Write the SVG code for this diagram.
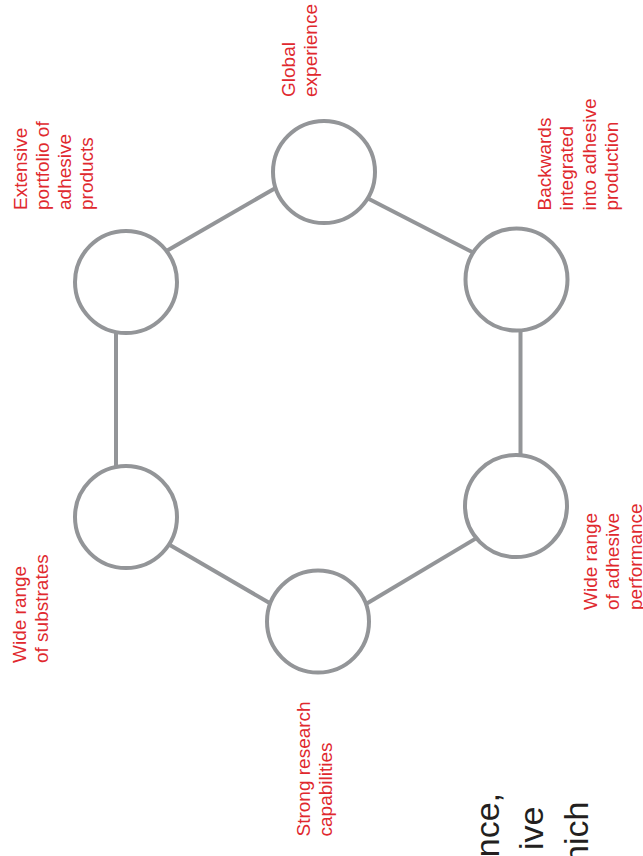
<svg xmlns="http://www.w3.org/2000/svg" width="643" height="856" viewBox="0 0 643 856">
<style>
.node{fill:#fff;stroke:#939598;stroke-width:4}
.edge{stroke:#939598;stroke-width:4;fill:none}
.lbl{font-family:"Liberation Sans",Arial,sans-serif;font-size:19px;fill:#e0282e}
.body{font-family:"Liberation Sans",Arial,sans-serif;font-size:34px;fill:#231f20}
</style>
<rect width="643" height="856" fill="#fff"/>
<g id="connectors">
<line class="edge" x1="166" y1="251.3" x2="276" y2="187.7"/>
<line class="edge" x1="368" y1="198.5" x2="474" y2="253"/>
<line class="edge" x1="520.5" y1="328" x2="520.5" y2="457"/>
<line class="edge" x1="476" y1="538.4" x2="366" y2="604"/>
<line class="edge" x1="270" y1="603.3" x2="169" y2="544.5"/>
<line class="edge" x1="116" y1="331" x2="116" y2="468"/>
</g>
<g id="global">
<circle class="node" cx="324" cy="172" r="51"/>
<text class="lbl" transform="translate(294.5,97) rotate(-90)"><tspan x="0">Global</tspan><tspan x="0" dy="22.3">experience</tspan></text>
</g>
<g id="backwards">
<circle class="node" cx="516.5" cy="279.5" r="51"/>
<text class="lbl" transform="translate(551,210.5) rotate(-90)"><tspan x="0">Backwards</tspan><tspan x="0" dy="22.3">integrated</tspan><tspan x="0" dy="22.3">into adhesive</tspan><tspan x="0" dy="22.3">production</tspan></text>
</g>
<g id="performance">
<circle class="node" cx="516" cy="506" r="51"/>
<text class="lbl" transform="translate(597,610) rotate(-90)"><tspan x="0">Wide range</tspan><tspan x="0" dy="22.3">of adhesive</tspan><tspan x="0" dy="22.3">performance</tspan></text>
</g>
<g id="research">
<circle class="node" cx="318" cy="621.5" r="51"/>
<text class="lbl" transform="translate(309.6,836.5) rotate(-90)"><tspan x="0">Strong research</tspan><tspan x="0" dy="22.3">capabilities</tspan></text>
</g>
<g id="substrates">
<circle class="node" cx="126" cy="517" r="51"/>
<text class="lbl" transform="translate(25.5,663) rotate(-90)"><tspan x="0">Wide range</tspan><tspan x="0" dy="22.3">of substrates</tspan></text>
</g>
<g id="portfolio">
<circle class="node" cx="126" cy="282" r="51"/>
<text class="lbl" transform="translate(26.5,210) rotate(-90)"><tspan x="0">Extensive</tspan><tspan x="0" dy="22.3">portfolio of</tspan><tspan x="0" dy="22.3">adhesive</tspan><tspan x="0" dy="22.3">products</tspan></text>
</g>
<g id="bodytext">
<text class="body" text-anchor="end" transform="translate(498.5,793) rotate(-90)">nce,</text>
<text class="body" text-anchor="end" transform="translate(543.3,806.5) rotate(-90)">ive</text>
<text class="body" text-anchor="end" transform="translate(588.3,801.5) rotate(-90)">hich</text>
</g>
</svg>
